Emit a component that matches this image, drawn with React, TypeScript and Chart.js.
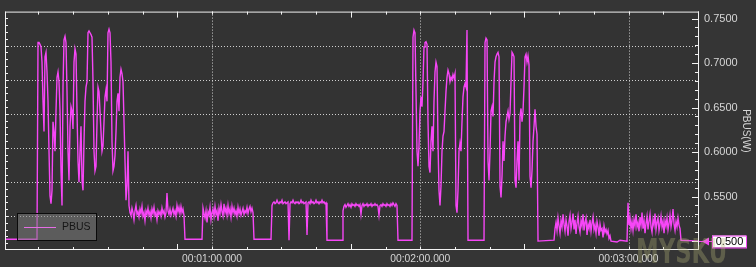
import { useEffect, useRef } from 'react';
import { Chart, registerables } from 'chart.js';

Chart.register(...registerables);

const SERIES_NAME = 'PBUS';
const AXIS_TITLE = 'PBUS(W)';
const WATERMARK = 'MYSKU';

// axis ranges (seconds, watts)
const X_MIN = 0.36;
const X_MAX = 200.31;
const Y_MIN = 0.49;
const Y_MAX = 0.75778;

const xTickSeconds = [60, 120, 180];
const yTickValues = [0.5, 0.55, 0.6, 0.65, 0.7, 0.75];

// sample period of the logger, seconds
const DT = 0.2881;

// recorded samples, mW, each block starts at the given time (s)
const busy1Start = 9.87;
const busy1 = [
  723, 723, 721, 718, 701, 657, 623, 707, 712, 690,
  657, 601, 551, 542, 557, 634, 623, 601, 646, 684,
  690, 679, 646, 579, 540, 673, 726, 730, 723, 668,
  601, 568, 629, 651, 646, 626, 701, 716, 710, 646,
  590, 566, 601, 629, 568, 557, 612, 657, 673, 679,
  734, 736, 734, 732, 729, 679, 601, 579, 584, 634,
  673, 668, 646, 623, 601, 607, 634, 662, 670, 657,
  734, 738, 734, 701, 612, 579, 584, 596, 623, 657,
  666, 646, 684, 693, 688, 679, 634, 590, 546, 562,
  601, 540, 532,
];

const plateau1Start = 36.66;
const plateau1 = [
  529, 537, 532, 524, 534, 540, 530, 533, 527, 536,
  531, 539, 528, 532, 523, 534, 530, 537, 529, 533,
  526, 536, 531, 538, 529, 532, 524, 534, 530, 533,
  528, 537, 531, 534, 527, 532, 554, 534, 530, 536,
  529, 533, 537, 530, 534, 528, 540, 533, 538, 531,
  539, 532, 536, 529,
];

const plateau2Start = 57.41;
const plateau2 = [
  537, 531, 526, 534, 521, 533, 529, 538, 524, 532,
  536, 528, 539, 530, 534, 523, 537, 531, 541, 533,
  528, 542, 532, 537, 529, 540, 531, 536, 527, 539,
  532, 537, 530, 534, 528, 538, 531, 536, 529, 533,
  537, 530, 534, 532, 538, 531, 536, 539, 533, 537,
  532,
];

const highAStart = 77.29;
const highA = [
  540, 543, 544, 542, 543, 546, 543, 542, 544, 543,
  546, 542, 543, 544, 542, 543, 544, 501, 542, 544,
  543, 546, 543, 542, 544, 543, 544, 542, 543, 546,
  543, 544, 542, 543, 544, 507, 543, 544, 542, 546,
  543, 544, 542, 543, 546, 543, 544, 542, 544, 543,
  546, 543, 544, 542, 543,
];

const highBStart = 97.74;
const highB = [
  534, 539, 541, 538, 540, 542, 539, 541, 538, 542,
  540, 541, 539, 542, 540, 541, 539, 541, 530, 540,
  542, 539, 541, 540, 542, 539, 541, 540, 542, 539,
  541, 540, 542, 540, 541, 539, 529, 540, 541, 539,
  542, 540, 541, 539, 542, 540, 541, 539, 542, 540,
  543, 541, 539, 542, 540,
];

const busy2aStart = 117.91;
const busy2a = [
  729, 737, 734, 668, 601, 584, 607, 646, 662, 651,
  679, 718, 723, 724, 721, 634, 584, 577, 612, 629,
  601, 657, 690, 701, 696, 612, 557, 540, 562, 601,
  618, 623, 646, 668, 684, 692, 688, 679, 684, 681,
  687, 683, 688, 540, 532, 557, 601, 610, 601, 634,
  662, 673, 677, 673, 737,
];

const busy2bStart = 138.66;
const busy2b = [
  723, 728, 726, 590, 568, 601, 646, 651, 640, 679,
  701, 707, 710, 712, 707, 562, 549, 573, 612, 590,
  618, 634, 640, 646, 637, 643, 679, 712, 710, 707,
  568, 560, 590, 612, 568, 640, 649, 634, 646, 673,
  707, 710, 701, 708, 698, 573, 560, 579, 612, 629,
  648, 629, 620,
];

const tailAStart = 158.83;
const tailA = [
  514, 521, 512, 526, 517, 509, 523, 516, 530, 519,
  511, 524, 517, 506, 522, 529, 514, 521, 531, 513,
  524, 508, 520, 528, 516, 510, 523, 517, 530, 512,
  521, 526, 507, 519, 514, 524, 511, 520, 527, 513,
  518, 509, 522, 516, 506, 519, 512, 514, 504, 517,
  510, 513, 508, 512, 503, 506,
];

const tailBStart = 179.86;
const tailB = [
  543, 518, 526, 514, 522, 512, 524, 517, 530, 516,
  521, 511, 527, 518, 532, 514, 523, 509, 520, 528,
  513, 522, 530, 516, 510, 524, 518, 531, 513, 521,
  526, 512, 519, 528, 516, 522, 509, 523, 517, 526,
  513, 520, 529, 516, 523, 536, 519, 512, 522, 516,
  526, 518, 514,
];

// idle floor readings: [time s, mW]
const floorPoints: [number, number][] = [
  [0.36, 502], [9.58, 502],
  [52.22, 502], [57.12, 502],
  [72.1, 502], [77.0, 502],
  [93.13, 501], [97.46, 501],
  [113.59, 501], [117.62, 501],
  [133.76, 501], [138.37, 501],
  [153.93, 500], [158.54, 501],
  [174.96, 500], [176.69, 499], [177.55, 501], [179.57, 500],
  [195.13, 501], [200.31, 500],
];

const blocks: [number, number[]][] = [
  [busy1Start, busy1],
  [plateau1Start, plateau1],
  [plateau2Start, plateau2],
  [highAStart, highA],
  [highBStart, highB],
  [busy2aStart, busy2a],
  [busy2bStart, busy2b],
  [tailAStart, tailA],
  [tailBStart, tailB],
];

function buildPoints() {
  const pts: { x: number; y: number }[] = floorPoints.map(([t, mw]) => ({ x: t, y: mw / 1000 }));
  for (const [start, vals] of blocks) {
    vals.forEach((mw, i) => pts.push({ x: start + i * DT, y: mw / 1000 }));
  }
  pts.sort((a, b) => a.x - b.x);
  return pts;
}

const pad2 = (n: number) => String(n).padStart(2, '0');
const fmtTime = (s: number) => {
  const h = Math.floor(s / 3600);
  const m = Math.floor(s / 60) % 60;
  const sec = s - h * 3600 - m * 60;
  return `${pad2(h)}:${pad2(m)}:${sec.toFixed(3).padStart(6, '0')}`;
};

const LINE_COLOR = '#f646f6';
const TEXT_COLOR = '#d6d6d6';
const FONT = 'Liberation Sans, Arial, sans-serif';

const framePlugin = {
  id: 'frame',
  beforeDraw(chart: any) {
    const { ctx, width, height, chartArea: a } = chart;
    ctx.save();
    ctx.fillStyle = '#353535';
    ctx.fillRect(0, 0, width, height);
    ctx.fillStyle = '#333333';
    ctx.fillRect(a.left, a.top, a.right - a.left, a.bottom - a.top);
    ctx.restore();
  },
  beforeDatasetsDraw(chart: any) {
    const { ctx, chartArea: a, scales } = chart;
    const h = a.bottom - a.top;
    ctx.save();
    ctx.strokeStyle = '#d0d0d0';
    ctx.lineWidth = 1;
    ctx.setLineDash([1, 2]);
    ctx.beginPath();
    for (let k = 1; k < 7; k++) {
      const y = Math.round(a.top + (k * h) / 7) + 0.5;
      ctx.moveTo(a.left, y);
      ctx.lineTo(a.right, y);
    }
    for (const t of xTickSeconds) {
      const x = Math.round(scales.x.getPixelForValue(t)) + 0.5;
      ctx.moveTo(x, a.top);
      ctx.lineTo(x, a.bottom);
    }
    ctx.stroke();
    ctx.restore();
  },
  afterDatasetsDraw(chart: any) {
    const { ctx, chartArea: a, scales } = chart;
    const xs = scales.x;
    const ys = scales.y;
    const h = a.bottom - a.top;
    ctx.save();
    ctx.strokeStyle = '#f2f2f2';
    ctx.lineWidth = 1;
    ctx.beginPath();
    // frame
    ctx.moveTo(a.left, a.top + 0.5);
    ctx.lineTo(a.right, a.top + 0.5);
    ctx.moveTo(a.left + 0.5, a.top);
    ctx.lineTo(a.left + 0.5, a.bottom);
    ctx.moveTo(a.right - 0.5, a.top);
    ctx.lineTo(a.right - 0.5, a.bottom);
    ctx.moveTo(a.left, a.bottom - 0.5);
    ctx.lineTo(a.right, a.bottom - 0.5);
    // top / bottom minor ticks every 10 s
    for (let t = 10; t < X_MAX; t += 10) {
      const x = Math.round(xs.getPixelForValue(t)) + 0.5;
      const len = t % 50 === 0 ? 5 : 2;
      ctx.moveTo(x, a.top);
      ctx.lineTo(x, a.top + 1 + len);
      ctx.moveTo(x, a.bottom);
      ctx.lineTo(x, a.bottom - 1 - len);
    }
    // left minor ticks
    for (let k = 1; k < 35; k++) {
      const y = Math.round(a.top + (k * h) / 35) + 0.5;
      ctx.moveTo(a.left, y);
      ctx.lineTo(a.left + 3, y);
    }
    // right ticks every 0.01 W
    for (let c = 50; c <= 75; c++) {
      const y = Math.round(ys.getPixelForValue(c / 100)) + 0.5;
      const len = c % 5 === 0 ? 6 : 3;
      ctx.moveTo(a.right - 1 - len, y);
      ctx.lineTo(a.right, y);
    }
    ctx.stroke();

    // legend box
    ctx.fillStyle = 'rgba(125,125,125,0.55)';
    ctx.fillRect(17, 213, 79, 27);
    ctx.strokeStyle = '#0a0a0a';
    ctx.strokeRect(17.5, 213.5, 79, 27);
    ctx.strokeStyle = '#e46ee4';
    ctx.beginPath();
    ctx.moveTo(24, 227.5);
    ctx.lineTo(56, 227.5);
    ctx.stroke();
    ctx.fillStyle = '#151515';
    ctx.font = `10.5px ${FONT}`;
    ctx.textBaseline = 'middle';
    ctx.textAlign = 'left';
    ctx.fillText(SERIES_NAME, 62, 227.5);

    // current value marker
    const data = chart.data.datasets[0].data;
    const last = data[data.length - 1].y;
    const yv = Math.round(ys.getPixelForValue(last)) + 0.5;
    ctx.fillStyle = LINE_COLOR;
    ctx.beginPath();
    ctx.moveTo(a.right + 3, yv);
    ctx.lineTo(a.right + 10, yv - 4);
    ctx.lineTo(a.right + 10, yv + 4);
    ctx.closePath();
    ctx.fill();
    ctx.strokeStyle = LINE_COLOR;
    ctx.beginPath();
    ctx.moveTo(a.right, yv);
    ctx.lineTo(a.right + 13, yv);
    ctx.stroke();
    ctx.fillStyle = '#ffffff';
    ctx.fillRect(712, yv - 6, 34, 12);
    ctx.strokeRect(712.5, yv - 5.5, 34, 12);
    ctx.fillStyle = '#000000';
    ctx.font = `11px ${FONT}`;
    ctx.textAlign = 'center';
    ctx.fillText(last.toFixed(3), 729.5, yv + 0.5);
    ctx.restore();
  },
};

export default function App() {
  const ref = useRef<HTMLCanvasElement | null>(null);

  useEffect(() => {
    document.body.style.margin = '0';
    const canvas = ref.current;
    if (!canvas) return;
    const chart = new Chart(canvas, {
      type: 'line',
      data: {
        datasets: [
          {
            label: SERIES_NAME,
            data: buildPoints(),
            borderColor: LINE_COLOR,
            borderWidth: 1.4,
            pointRadius: 0,
            tension: 0,
            fill: false,
          },
        ],
      },
      options: {
        animation: false,
        responsive: false,
        maintainAspectRatio: false,
        devicePixelRatio: 1,
        layout: { padding: { left: 5, top: 9, right: 0, bottom: 0 } },
        plugins: { legend: { display: false }, tooltip: { enabled: false } },
        scales: {
          x: {
            type: 'linear',
            position: 'bottom',
            min: X_MIN,
            max: X_MAX,
            afterBuildTicks: (s: any) => {
              s.ticks = xTickSeconds.map((v) => ({ value: v }));
            },
            afterFit: (s: any) => {
              s.height = 17;
            },
            grid: { display: false, drawTicks: false },
            border: { display: false },
            ticks: {
              autoSkip: false,
              maxRotation: 0,
              padding: 3,
              color: TEXT_COLOR,
              font: { family: FONT, size: 10.3 },
              callback: (v: any) => fmtTime(Number(v)),
            },
          },
          y: {
            type: 'linear',
            position: 'right',
            min: Y_MIN,
            max: Y_MAX,
            afterBuildTicks: (s: any) => {
              s.ticks = yTickValues.map((v) => ({ value: v }));
            },
            afterFit: (s: any) => {
              s.width = 57;
            },
            grid: { display: false, drawTicks: false },
            border: { display: false },
            ticks: {
              autoSkip: false,
              padding: 5,
              color: TEXT_COLOR,
              font: { family: FONT, size: 11 },
              callback: (v: any) => (Math.abs(Number(v) - 0.5) < 1e-9 ? '' : Number(v).toFixed(4)),
            },
            title: {
              display: true,
              text: AXIS_TITLE,
              color: TEXT_COLOR,
              font: { family: FONT, size: 10 },
              padding: { top: 4, bottom: 0 },
            },
          },
        },
      },
      plugins: [framePlugin],
    } as any);
    return () => chart.destroy();
  }, []);

  return (
    <div style={{ position: 'fixed', left: 0, top: 0, width: 756, height: 267, overflow: 'hidden', background: '#353535' }}>
      <canvas ref={ref} width={756} height={267} style={{ display: 'block' }} />
      <div
        style={{
          position: 'absolute',
          left: 636,
          top: 234,
          font: 'bold 34px "DejaVu Sans", sans-serif',
          lineHeight: '34px',
          color: 'rgba(185,185,120,0.32)',
          transform: 'scaleX(0.67)',
          transformOrigin: 'left top',
          whiteSpace: 'nowrap',
          pointerEvents: 'none',
        }}
      >
        {WATERMARK}
      </div>
    </div>
  );
}
